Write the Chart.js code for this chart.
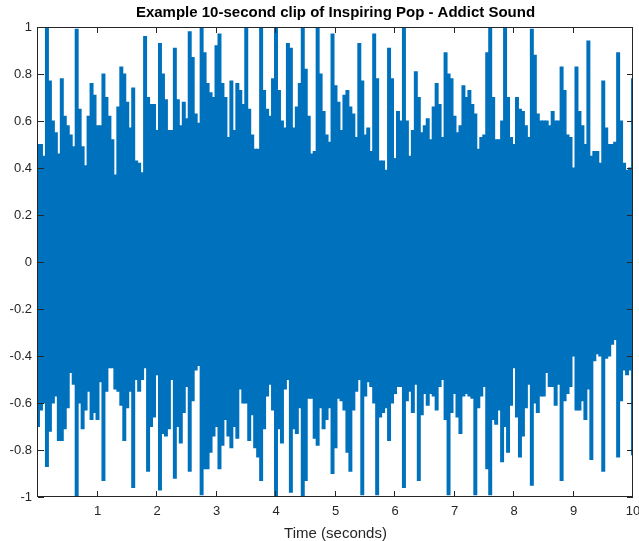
<!DOCTYPE html>
<html>
<head>
<meta charset="utf-8">
<script src="https://cdn.jsdelivr.net/npm/chart.js@4.4.1/dist/chart.umd.min.js"></script>
<style>
  html, body { margin: 0; padding: 0; background: #ffffff; }
  #wrap { width: 639px; height: 541px; }
</style>
</head>
<body>
<div id="wrap"><canvas id="wave" width="639" height="541"></canvas></div>
<script>
// Peak amplitudes of the clip, one max/min pair per 50 ms window (0 s .. 10 s)
const windowSeconds = 0.05;

const upperPeaks = [
  0.50,0.50,0.45,1.00,0.77,0.60,0.55,0.46,0.78,0.62,
  0.58,0.54,0.49,0.99,0.65,0.49,0.41,0.62,0.76,0.71,
  0.58,0.58,0.80,0.70,0.62,0.52,0.37,0.66,0.83,0.80,
  0.68,0.57,0.74,0.43,0.42,0.38,0.96,0.70,0.67,0.67,
  0.56,0.93,0.80,0.69,0.56,0.56,0.91,0.69,0.58,0.68,
  0.61,0.98,0.87,0.63,0.59,1.00,0.89,0.76,0.72,0.70,
  0.92,0.97,0.76,0.70,0.53,0.77,0.56,0.76,0.73,0.67,
  1.00,0.65,0.54,0.48,0.48,1.00,0.73,0.65,0.62,0.78,
  1.00,0.73,0.60,0.57,0.93,0.91,0.57,0.66,0.76,1.00,
  0.82,0.62,0.46,0.47,1.00,0.80,0.64,0.54,0.51,0.97,
  0.75,0.68,0.56,0.71,0.73,0.66,0.63,0.53,0.93,0.77,
  0.54,0.57,0.47,0.97,0.78,0.43,0.43,0.39,0.91,0.78,
  0.44,0.64,0.60,1.00,0.60,0.45,0.56,0.81,0.70,0.55,
  0.58,0.61,0.52,0.66,0.76,0.67,0.53,0.89,0.80,0.78,
  0.62,0.55,0.58,0.75,0.70,0.73,0.67,0.63,0.48,0.53,
  0.54,0.89,1.00,0.70,0.52,0.52,0.60,1.00,0.70,0.53,
  0.50,0.70,0.65,0.64,0.58,0.53,0.99,0.88,0.63,0.60,
  0.60,0.60,0.58,0.64,0.60,0.60,0.83,0.73,0.54,0.53,
  0.40,0.83,0.64,0.58,0.50,0.94,0.45,0.47,0.47,0.42,
  0.77,0.57,0.50,0.50,0.51,0.89,0.60,0.42,0.39,0.40,
  0.78
];

const lowerPeaks = [
  -0.70,-0.63,-0.60,-0.87,-0.72,-0.60,-0.57,-0.76,-0.76,-0.71,
  -0.62,-0.47,-0.52,-1.00,-0.60,-0.71,-0.63,-0.55,-0.67,-0.64,
  -0.67,-0.51,-0.93,-0.55,-0.45,-0.45,-0.54,-0.55,-0.61,-0.76,
  -0.62,-0.55,-0.96,-0.50,-0.55,-0.50,-0.45,-0.89,-0.70,-0.66,
  -0.48,-0.97,-0.73,-0.74,-0.71,-0.50,-0.92,-0.70,-0.77,-0.64,
  -0.53,-0.89,-0.59,-0.46,-0.44,-0.99,-0.88,-0.88,-0.81,-0.74,
  -0.70,-0.88,-0.78,-0.67,-0.74,-0.79,-0.70,-0.75,-0.54,-0.60,
  -0.60,-0.76,-0.65,-0.79,-0.83,-0.93,-0.71,-0.57,-0.52,-0.63,
  -1.00,-0.71,-0.77,-0.54,-0.50,-0.98,-0.71,-0.73,-0.62,-1.00,
  -0.93,-0.58,-0.58,-0.75,-0.78,-0.62,-0.71,-0.67,-0.62,-0.90,
  -0.79,-0.58,-0.59,-0.63,-0.81,-0.89,-0.63,-0.55,-0.50,-0.99,
  -0.57,-0.51,-0.53,-0.60,-0.99,-0.66,-0.64,-0.62,-0.76,-0.60,
  -0.56,-0.53,-0.53,-0.96,-0.59,-0.55,-0.64,-0.52,-0.93,-0.65,
  -0.56,-0.61,-0.56,-0.57,-0.63,-0.53,-0.50,-0.67,-0.99,-0.64,
  -0.56,-0.66,-0.73,-0.57,-0.56,-0.57,-0.58,-0.99,-0.62,-0.57,
  -0.53,-0.88,-0.99,-0.67,-0.69,-0.63,-0.85,-0.70,-0.81,-0.61,
  -0.45,-0.66,-0.83,-0.74,-0.62,-0.52,-0.95,-0.60,-0.64,-0.57,
  -0.57,-0.47,-0.53,-0.53,-0.61,-0.52,-0.93,-0.59,-0.56,-0.53,
  -0.40,-0.63,-0.63,-0.59,-0.67,-0.54,-0.84,-0.42,-0.39,-0.40,
  -0.89,-0.41,-0.40,-0.35,-0.33,-0.83,-0.59,-0.46,-0.48,-0.46,
  -0.82
];

const xTickValues = [1, 2, 3, 4, 5, 6, 7, 8, 9, 10];
const yTickValues = [-1, -0.8, -0.6, -0.4, -0.2, 0, 0.2, 0.4, 0.6, 0.8, 1];
const yTickLabels = ['-1', '-0.8', '-0.6', '-0.4', '-0.2', '0', '0.2', '0.4', '0.6', '0.8', '1'];

const titleText = 'Example 10-second clip of Inspiring Pop - Addict Sound';
const xAxisTitle = 'Time (seconds)';

// Each window is drawn as one column spanning its min..max amplitude
const windowColumns = upperPeaks.map((hi, i) => ({
  x: i * windowSeconds,
  y: [lowerPeaks[i], hi]
}));

const FONT = "'Liberation Sans', Arial, Helvetica, sans-serif";
const INK = '#262626';

// Box around the plot with inward tick marks on all four sides
const axesBox = {
  id: 'axesBox',
  afterDatasetsDraw(chart) {
    const { ctx, chartArea: a, scales: { x, y } } = chart;
    const len = 6;
    ctx.save();
    ctx.strokeStyle = INK;
    ctx.lineWidth = 1;
    ctx.beginPath();
    xTickValues.forEach(v => {
      const px = Math.round(x.getPixelForValue(v)) - 0.5;
      ctx.moveTo(px, a.bottom); ctx.lineTo(px, a.bottom - len);
      ctx.moveTo(px, a.top); ctx.lineTo(px, a.top + len);
    });
    yTickValues.forEach(v => {
      const py = Math.round(y.getPixelForValue(v)) + 0.5;
      ctx.moveTo(a.left, py); ctx.lineTo(a.left + len, py);
      ctx.moveTo(a.right, py); ctx.lineTo(a.right - len, py);
    });
    ctx.stroke();
    ctx.strokeRect(Math.round(a.left) - 0.5, Math.round(a.top) + 0.5,
                   Math.round(a.right - a.left), Math.round(a.bottom - a.top) - 1);
    ctx.restore();
  }
};

new Chart(document.getElementById('wave'), {
  type: 'bar',
  data: {
    datasets: [{
      data: windowColumns,
      backgroundColor: '#0072BD',
      borderWidth: 0,
      barPercentage: 1,
      categoryPercentage: 1,
      inflateAmount: 0.5,
      grouped: false,
      clip: 0
    }]
  },
  options: {
    responsive: false,
    animation: false,
    devicePixelRatio: 1,
    layout: { padding: { left: 0, right: 6, top: 0, bottom: 0 } },
    plugins: {
      legend: { display: false },
      tooltip: { enabled: false },
      title: {
        display: true,
        fullSize: false,
        text: titleText,
        color: '#000000',
        font: { family: FONT, size: 15, weight: 'bold' },
        padding: { top: 4, bottom: 5 }
      }
    },
    scales: {
      x: {
        type: 'linear',
        min: 0,
        max: 10,
        offset: false,
        afterBuildTicks: s => { s.ticks = xTickValues.map(v => ({ value: v })); },
        afterFit: s => { s.height = 44; s.paddingLeft = 0; s.paddingRight = 0; },
        grid: { display: false, drawTicks: false, offset: false },
        border: { display: false },
        ticks: {
          color: INK,
          font: { family: FONT, size: 13 },
          padding: 7,
          maxRotation: 0,
          autoSkip: false,
          callback: v => String(v)
        },
        title: {
          display: true,
          text: xAxisTitle,
          color: INK,
          font: { family: FONT, size: 15 },
          padding: { top: 0, bottom: -2 }
        }
      },
      y: {
        type: 'linear',
        min: -1,
        max: 1,
        afterBuildTicks: s => { s.ticks = yTickValues.map(v => ({ value: v })); },
        afterFit: s => { s.width = 38; },
        grid: { display: false, drawTicks: false },
        border: { display: false },
        ticks: {
          color: INK,
          font: { family: FONT, size: 13 },
          padding: 6,
          autoSkip: false,
          callback: (v, i) => yTickLabels[i]
        }
      }
    }
  },
  plugins: [axesBox]
});
</script>
</body>
</html>
